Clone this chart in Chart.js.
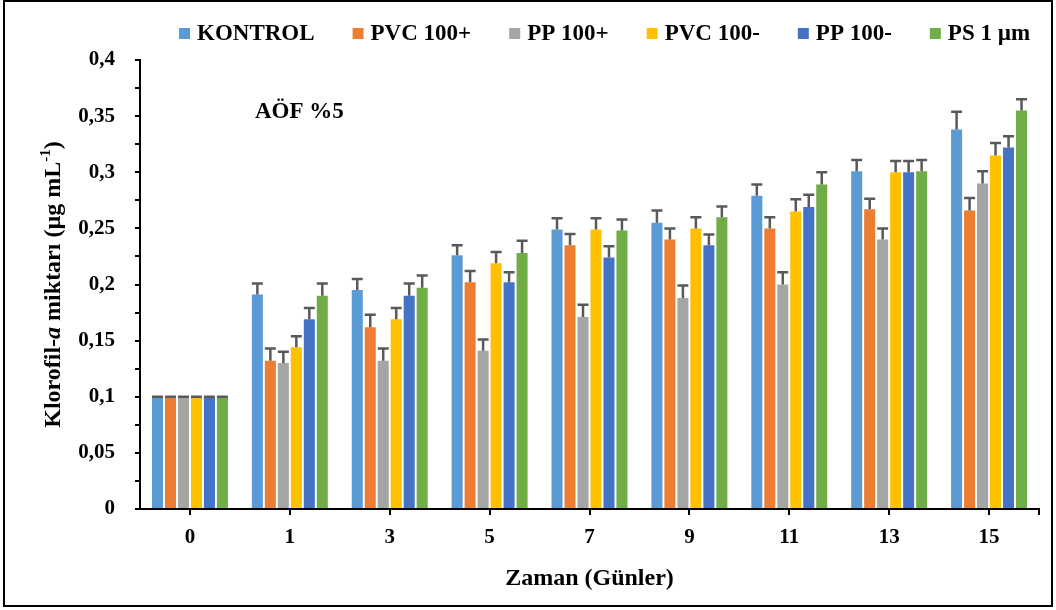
<!DOCTYPE html>
<html lang="tr">
<head>
<meta charset="utf-8">
<title>Klorofil-a miktarı</title>
<script src="https://cdn.jsdelivr.net/npm/chart.js@4.4.1/dist/chart.umd.min.js"></script>
<style>
  html, body { margin: 0; padding: 0; background: #fff; }
  #wrap { position: relative; width: 1056px; height: 610px; }
  #frame {
    position: absolute; left: 3px; top: 0; width: 1050px; height: 607px;
    box-sizing: border-box; border: 2px solid #000; pointer-events: none;
  }
</style>
</head>
<body>
<div id="wrap">
  <canvas id="chart"></canvas>
  <div id="frame"></div>
</div>
<script>
const FONT = '"Liberation Serif", "Times New Roman", serif';

// Sampling days
const days = ['0', '1', '3', '5', '7', '9', '11', '13', '15'];

// Mean chlorophyll-a (µg mL-1) and upper error per group
const kontrol     = [0.100, 0.191, 0.195, 0.226, 0.249, 0.255, 0.279, 0.301, 0.338];
const kontrolErr  = [0, 0.010, 0.010, 0.009, 0.010, 0.011, 0.010, 0.010, 0.016];
const pvcPlus     = [0.100, 0.132, 0.162, 0.202, 0.235, 0.240, 0.250, 0.267, 0.266];
const pvcPlusErr  = [0, 0.011, 0.011, 0.010, 0.010, 0.010, 0.010, 0.0095, 0.011];
const ppPlus      = [0.100, 0.130, 0.132, 0.141, 0.171, 0.188, 0.200, 0.240, 0.290];
const ppPlusErr   = [0, 0.010, 0.011, 0.010, 0.011, 0.011, 0.011, 0.010, 0.011];
const pvcMinus    = [0.100, 0.144, 0.169, 0.219, 0.249, 0.250, 0.265, 0.300, 0.315];
const pvcMinusErr = [0, 0.010, 0.010, 0.010, 0.010, 0.010, 0.011, 0.010, 0.011];
const ppMinus     = [0.100, 0.169, 0.190, 0.202, 0.224, 0.235, 0.269, 0.300, 0.322];
const ppMinusErr  = [0, 0.010, 0.011, 0.009, 0.010, 0.0095, 0.011, 0.010, 0.010];
const ps          = [0.100, 0.190, 0.197, 0.228, 0.248, 0.260, 0.289, 0.301, 0.355];
const psErr       = [0, 0.011, 0.011, 0.011, 0.010, 0.0095, 0.011, 0.010, 0.010];

const seriesNames = ['KONTROL', 'PVC 100+', 'PP 100+', 'PVC 100-', 'PP 100-', 'PS 1 µm'];
const seriesColors = ['#5B9BD5', '#ED7D31', '#A5A5A5', '#FFC000', '#4472C4', '#70AD47'];
const seriesValues = [kontrol, pvcPlus, ppPlus, pvcMinus, ppMinus, ps];
const seriesErrors = [kontrolErr, pvcPlusErr, ppPlusErr, pvcMinusErr, ppMinusErr, psErr];

const datasets = seriesNames.map((name, i) => ({
  label: name,
  data: seriesValues[i],
  errors: seriesErrors[i],
  backgroundColor: seriesColors[i],
  borderWidth: 0,
  categoryPercentage: 0.78,
  barPercentage: 0.85
}));

// Upper error bars with a cap, drawn on top of each bar
const errorBars = {
  id: 'errorBars',
  afterDatasetsDraw(chart) {
    const ctx = chart.ctx;
    const y = chart.scales.y;
    ctx.save();
    ctx.strokeStyle = '#595959';
    ctx.lineWidth = 2.5;
    chart.data.datasets.forEach((ds, i) => {
      chart.getDatasetMeta(i).data.forEach((bar, j) => {
        const top = y.getPixelForValue(ds.data[j] + ds.errors[j]);
        const half = 5.5;
        ctx.beginPath();
        ctx.moveTo(bar.x, bar.y);
        ctx.lineTo(bar.x, top);
        ctx.moveTo(bar.x - half, top);
        ctx.lineTo(bar.x + half, top);
        ctx.stroke();
      });
    });
    ctx.restore();
  }
};

// Legend row, y axis title (italic a, superscript) and the panel note
const decorations = {
  id: 'decorations',
  afterDraw(chart) {
    const ctx = chart.ctx;
    const area = chart.chartArea;
    ctx.save();
    ctx.fillStyle = '#000';

    // legend
    ctx.font = 'bold 23px ' + FONT;
    ctx.textBaseline = 'middle';
    let x = 179;
    chart.data.datasets.forEach(ds => {
      ctx.fillStyle = ds.backgroundColor;
      ctx.fillRect(x, 28, 11, 11);
      ctx.fillStyle = '#000';
      ctx.fillText(ds.label, x + 18, 34);
      x += 18 + ctx.measureText(ds.label).width + 38;
    });

    // right end tick of the category axis
    ctx.strokeStyle = '#000';
    ctx.lineWidth = 2;
    ctx.beginPath();
    ctx.moveTo(area.right, area.bottom);
    ctx.lineTo(area.right, area.bottom + 6);
    ctx.stroke();

    // y axis title
    const parts = [
      { t: 'Klorofil-', f: 'bold 24px ' + FONT, dy: 0 },
      { t: 'a', f: 'italic bold 24px ' + FONT, dy: 0 },
      { t: ' miktarı (µg mL', f: 'bold 24px ' + FONT, dy: 0 },
      { t: '-1', f: 'bold 15px ' + FONT, dy: -8 },
      { t: ')', f: 'bold 24px ' + FONT, dy: 0 }
    ];
    let total = 0;
    parts.forEach(p => { ctx.font = p.f; p.w = ctx.measureText(p.t).width; total += p.w; });
    ctx.translate(54, (area.top + area.bottom) / 2);
    ctx.rotate(-Math.PI / 2);
    ctx.textBaseline = 'middle';
    let px = -total / 2;
    parts.forEach(p => { ctx.font = p.f; ctx.fillText(p.t, px, p.dy); px += p.w; });
    ctx.setTransform(1, 0, 0, 1, 0, 0);

    // panel note
    ctx.font = 'bold 23px ' + FONT;
    ctx.textBaseline = 'middle';
    ctx.fillText('AÖF %5', 255, 112);
    ctx.restore();
  }
};

const fmt = v => {
  const r = Math.round(v * 1000) / 1000;
  if (Math.round(r * 1000) % 50 !== 0) return '';
  return String(r).replace('.', ',');
};

new Chart(document.getElementById('chart'), {
  type: 'bar',
  data: { labels: days, datasets },
  options: {
    responsive: true,
    maintainAspectRatio: false,
    animation: false,
    layout: { padding: { top: 60, right: 17, bottom: 0, left: 0 } },
    plugins: {
      legend: { display: false },
      tooltip: { enabled: false }
    },
    scales: {
      x: {
        offset: true,
        grid: { display: true, offset: false, drawOnChartArea: false, drawTicks: true, tickLength: 6, color: '#000', lineWidth: 2 },
        border: { display: true, color: '#000', width: 2 },
        ticks: { color: '#000', padding: 10, font: { family: FONT, size: 21, weight: 'bold' } },
        title: {
          display: true, text: 'Zaman (Günler)', color: '#000',
          font: { family: FONT, size: 24, weight: 'bold' }, padding: { top: 0, bottom: 17 }
        },
        afterFit(scale) { scale.height = 101; }
      },
      y: {
        min: 0,
        max: 0.4,
        grid: { display: true, drawOnChartArea: false, drawTicks: true, tickLength: 5, color: '#000', lineWidth: 2 },
        border: { display: true, color: '#000', width: 2 },
        ticks: {
          stepSize: 0.025, color: '#000', padding: 20, autoSkip: false,
          font: { family: FONT, size: 21, weight: 'bold' },
          callback: v => fmt(v)
        },
        afterFit(scale) { scale.width = 140; }
      }
    }
  },
  plugins: [errorBars, decorations]
});
</script>
</body>
</html>
